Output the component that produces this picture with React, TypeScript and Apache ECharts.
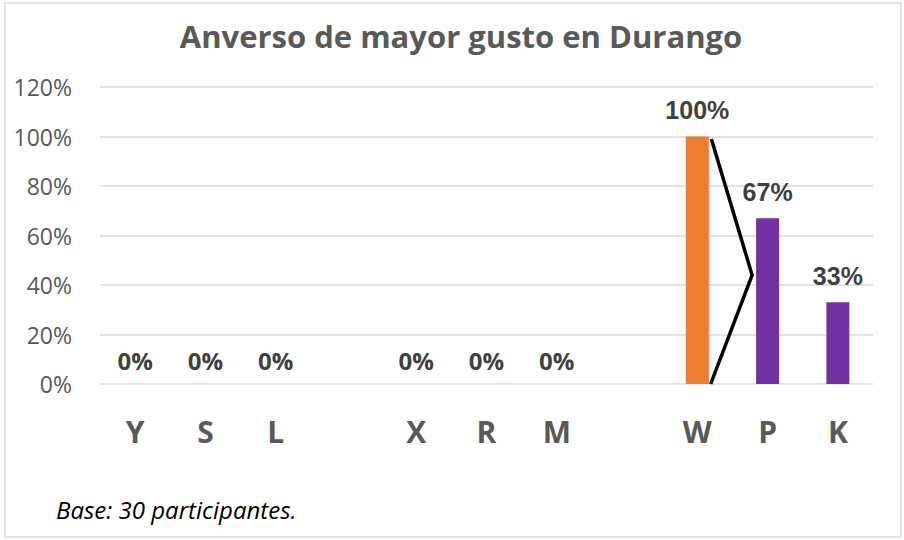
import React, { useEffect, useRef } from "react";
import * as echarts from "echarts";

const categories = ["Y", "S", "L", "", "X", "R", "M", "", "W", "P", "K"];
const values: (number | null)[] = [0, 0, 0, null, 0, 0, 0, null, 100, 67, 33];
const barColors = ["#7030A0", "#7030A0", "#7030A0", "#7030A0", "#7030A0", "#7030A0", "#7030A0", "#7030A0", "#ED7D31", "#7030A0", "#7030A0"];
const yTicks = [0, 20, 40, 60, 80, 100, 120];
// bracket annotation: from top of W down to a tip pointing at P and back to the baseline
const bracketCategory = 8;
const bracketValues = [99, 44, 0];

export default function App() {
  const ref = useRef<HTMLDivElement>(null);
  useEffect(() => {
    if (!ref.current) return;
    const chart = echarts.init(ref.current, null, { renderer: "svg" });
    const font = "'Open Sans', sans-serif";
    chart.setOption({
      animation: false,
      backgroundColor: "#ffffff",
      title: {
        text: "Anverso de mayor gusto en Durango",
        left: 456,
        textAlign: "center",
        top: 15,
        textStyle: { fontFamily: font, fontWeight: "bold", fontSize: 31, color: "#595959" },
      },
      grid: { left: 100, right: 31, top: 87, bottom: 156 },
      xAxis: {
        type: "category",
        data: categories,
        axisLine: { show: false },
        axisTick: { show: false },
        axisLabel: {
          fontFamily: font,
          fontWeight: "bold",
          fontSize: 30,
          color: "#595959",
          margin: 32,
        },
      },
      yAxis: {
        type: "value",
        min: 0,
        max: yTicks[yTicks.length - 1],
        interval: 20,
        axisLine: { show: false },
        axisTick: { show: false },
        splitLine: { lineStyle: { color: "#d9d9d9", width: 1.5 } },
        axisLabel: {
          fontFamily: font,
          fontSize: 23,
          color: "#595959",
          margin: 28,
          formatter: (v: number) => `${v}%`,
        },
      },
      series: [
        {
          type: "bar",
          barWidth: 23,
          data: values.map((v, i) => ({
            value: v,
            itemStyle: { color: barColors[i] },
            label: {
              show: v !== null,
              position: "top",
              distance: v === 0 ? 12 : 14,
              formatter: (p: any) => `${p.value}%`,
              fontFamily: v === 0 ? font : "'Liberation Sans', Arial, sans-serif",
              fontWeight: "bold",
              fontSize: v === 0 ? 24 : 25,
              color: "#404040",
            },
          })),
        },
        {
          type: "custom",
          silent: true,
          data: [[bracketCategory, bracketValues[0]]],
          renderItem: (params: any, api: any) => {
            const bw = api.size([1, 0])[0];
            const top = api.coord([bracketCategory, bracketValues[0]]);
            const tip = api.coord([bracketCategory, bracketValues[1]]);
            const bot = api.coord([bracketCategory, bracketValues[2]]);
            return {
              type: "polyline",
              shape: {
                points: [
                  [top[0] + bw * 0.2, top[1]],
                  [tip[0] + bw * 0.78, tip[1]],
                  [bot[0] + bw * 0.19, bot[1]],
                ],
              },
              style: { stroke: "#000000", lineWidth: 3.5, fill: null },
            };
          },
        },
      ],
      graphic: [
        {
          type: "rect",
          shape: { x: 5, y: 3, width: 896, height: 534 },
          style: { fill: null, stroke: "#d9d9d9", lineWidth: 1.5 },
          silent: true,
        },
        {
          type: "text",
          left: 56,
          top: 497,
          style: {
            text: "Base: 30 participantes.",
            fontFamily: font,
            fontStyle: "italic",
            fontSize: 24,
            fill: "#000000",
          },
        },
      ],
    });
    return () => chart.dispose();
  }, []);
  return <div ref={ref} style={{ width: 904, height: 540, position: "absolute", left: 0, top: 0 }} />;
}
